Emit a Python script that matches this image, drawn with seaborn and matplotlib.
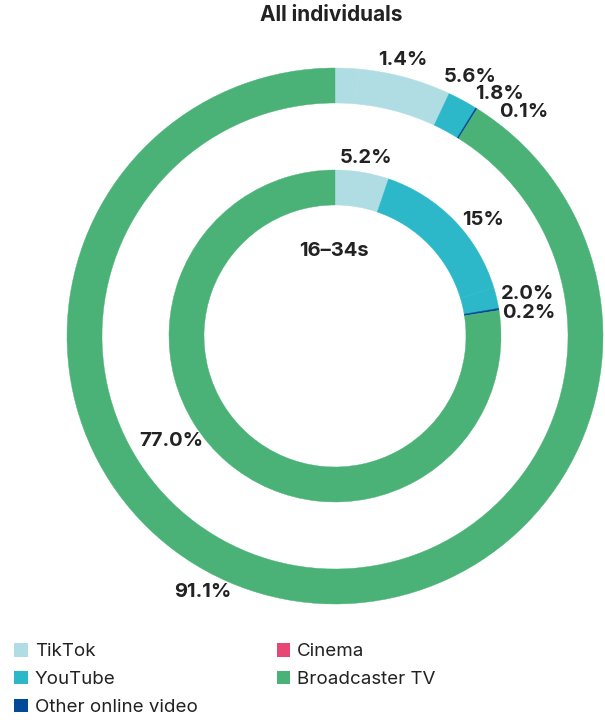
import matplotlib
matplotlib.use("Agg")
import matplotlib.pyplot as plt
import seaborn as sns
from matplotlib.patches import Patch

sns.set_theme(style="white")
plt.rcParams['font.family'] = ['Inter', 'DejaVu Sans']

# ---- data ----
legend_categories = ["TikTok", "YouTube", "Other online video", "Cinema", "Broadcaster TV"]
category_colors = {
    "TikTok": "#b0dde4",
    "YouTube": "#2cb8c8",
    "Other online video": "#004a98",
    "Cinema": "#e84675",
    "Broadcaster TV": "#4ab276",
}

outer_segments = ["TikTok", "TikTok", "YouTube", "Other online video", "Broadcaster TV"]
outer_values = [1.4, 5.6, 1.8, 0.1, 91.1]
outer_labels = ["1.4%", "5.6%", "1.8%", "0.1%", "91.1%"]

inner_segments = ["TikTok", "YouTube", "YouTube", "Other online video", "Broadcaster TV"]
inner_values = [5.2, 15.0, 2.0, 0.2, 77.0]
inner_labels = ["5.2%", "15%", "2.0%", "0.2%", "77.0%"]

title = "All individuals"
inner_title = "16–34s"

# ---- layout (pixels) ----
W, H = 605, 720
cx, cy = 335, 336
outer_label_pos = [(403, 60), (470, 77), (499, 94), (524, 112), (203, 592)]
inner_label_pos = [(366, 158), (483, 220), (528, 294), (529, 313), (171, 441)]

fig = plt.figure(figsize=(W / 100, H / 100), dpi=100)
ax = fig.add_axes([0, 0, 1, 1])

def Y(py):
    return H - py

ax.pie(outer_values, colors=[category_colors[c] for c in outer_segments],
       startangle=90, counterclock=False, center=(cx, Y(cy)), radius=268,
       wedgeprops=dict(width=35, linewidth=0.3, edgecolor=None), frame=True)
ax.pie(inner_values, colors=[category_colors[c] for c in inner_segments],
       startangle=90, counterclock=False, center=(cx, Y(cy)), radius=166,
       wedgeprops=dict(width=35, linewidth=0.3, edgecolor=None), frame=True)
for w in ax.patches:
    w.set_edgecolor(w.get_facecolor())
ax.set_xlim(0, W)
ax.set_ylim(0, H)
ax.set_aspect("equal")
ax.axis("off")

lab_kw = dict(ha="center", va="center", fontsize=14.5, fontweight="bold", color="#222222")
for txt, (x, y) in zip(outer_labels, outer_label_pos):
    ax.text(x, Y(y), txt, **lab_kw)
for txt, (x, y) in zip(inner_labels, inner_label_pos):
    ax.text(x, Y(y), txt, **lab_kw)
ax.text(331, Y(15), title, **{**lab_kw, "fontsize": 15})
ax.text(334, Y(251), inner_title, **lab_kw)

handles = [Patch(facecolor=category_colors[c], edgecolor="none", label=c) for c in legend_categories]
fig.legend(handles=handles, ncol=2, loc="upper left", bbox_to_anchor=(5 / W, 1 - 634 / H),
           frameon=False, fontsize=13.5, handlelength=0.7, handleheight=0.7,
           handletextpad=0.4, columnspacing=4.2, labelspacing=0.56, borderpad=0,
           labelcolor="#222222")

fig.savefig("out.png", dpi=100)
